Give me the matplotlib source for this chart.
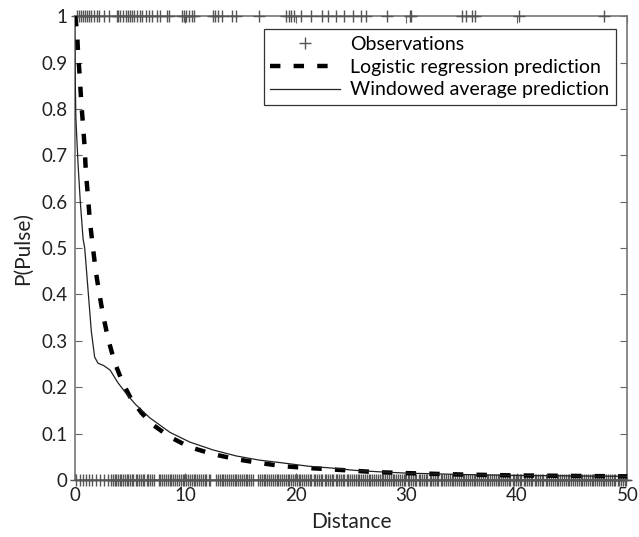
import matplotlib
matplotlib.use("Agg")
import matplotlib.pyplot as plt
from matplotlib.ticker import FuncFormatter

plt.rcParams['font.family'] = ['Lato', 'DejaVu Sans']
plt.rcParams['lines.scale_dashes'] = False

# Observations (distance of each event), pulse = 1 and pulse = 0
obs_pulse_x = [0.21, 0.39, 0.57, 0.75, 0.93, 1.1, 1.3, 1.5, 1.7, 2.0, 2.2, 2.6, 3.1,
               3.8, 3.95, 4.1, 4.4, 4.6, 4.8, 5.0, 5.2, 5.4, 5.6, 5.9, 6.1, 6.4, 6.7,
               7.0, 7.4, 7.7, 8.3, 8.5, 9.7, 9.9, 10.1, 10.3, 10.6, 10.8, 12.5, 12.7,
               13.0, 13.3, 14.2, 14.6, 16.7, 19.1, 19.4, 19.6, 19.8, 20.5, 21.4, 22.4,
               22.9, 23.6, 24.4, 25.2, 25.9, 26.3, 28.2, 30.3, 30.4, 35.0, 35.4, 35.9,
               36.2, 40.2, 47.9]
obs_nopulse_x = [0.15, 0.45, 0.7, 1.0, 1.3, 1.6, 1.96, 2.26, 2.6, 3.0, 3.3,
                 3.45, 3.6, 3.75, 3.9, 4.05, 4.2, 4.35, 4.5, 4.7, 4.85, 5.0, 5.15, 5.3,
                 5.5, 5.65, 5.8, 6.0, 6.15, 6.3, 6.5, 6.65, 6.8, 7.0, 7.15, 7.6, 7.75,
                 7.9, 8.1, 8.25, 8.4, 8.6, 8.75, 8.9, 9.1, 9.25, 9.4, 9.6, 9.75, 9.9,
                 10.1, 10.25, 10.4, 10.6, 10.75, 10.9, 11.1, 11.25, 11.4, 11.6, 11.75,
                 11.9, 12.1, 12.25, 12.8, 12.95, 13.1, 13.3, 13.45, 13.6, 13.8, 13.95,
                 14.1, 14.3, 14.45, 14.6, 14.8, 14.95, 15.1, 15.3, 15.45, 15.6, 15.8,
                 15.95, 16.1, 16.6, 16.75, 16.9, 17.1, 17.25, 17.4, 17.6, 17.75, 17.9,
                 18.1, 18.25, 18.4, 18.6, 18.75, 18.9, 19.1, 19.25, 19.4, 19.6, 19.75,
                 19.9, 20.1, 20.25, 20.4, 20.6, 20.75, 20.9, 21.1, 21.25, 21.4, 21.6,
                 21.75, 21.9, 22.1, 22.25, 22.4, 22.6, 22.75, 22.9, 23.1, 23.25, 23.4,
                 23.6, 23.75, 23.9, 24.1, 24.25, 24.4, 24.6, 24.75, 24.9, 25.1, 25.25,
                 25.4, 25.6, 25.75, 25.9, 26.1, 26.25, 26.4, 26.6, 26.75, 26.9, 27.1,
                 27.25, 27.4, 27.6, 27.75, 27.9, 28.1, 28.25, 28.4, 28.6, 28.75, 28.9,
                 29.1, 29.25, 29.4, 29.6, 29.75, 29.9, 30.1, 30.25, 30.4, 30.6, 30.75,
                 30.9, 31.1, 31.25, 31.4, 31.6, 31.75, 31.9, 32.1, 32.25, 32.4, 32.6,
                 32.75, 32.9, 33.1, 33.25, 33.4, 33.6, 33.75, 33.9, 34.1, 34.25, 34.4,
                 34.6, 34.75, 34.9, 35.1, 35.25, 35.4, 35.6, 35.75, 35.9, 36.1, 36.25,
                 36.4, 36.6, 36.75, 36.9, 37.1, 37.25, 37.4, 37.6, 37.75, 37.9, 38.1,
                 38.25, 38.4, 38.6, 38.75, 38.9, 39.1, 39.25, 39.4, 39.6, 39.75, 39.9,
                 40.1, 40.25, 40.4, 40.6, 40.75, 40.9, 41.1, 41.25, 41.4, 41.6, 41.75,
                 41.9, 42.1, 42.25, 42.4, 42.6, 42.75, 42.9, 43.1, 43.25, 43.4, 43.6,
                 43.75, 43.9, 44.1, 44.25, 44.4, 44.6, 44.75, 44.9, 45.1, 45.25, 45.4,
                 45.6, 45.75, 45.9, 46.1, 46.25, 46.4, 46.6, 46.75, 46.9, 47.1, 47.25,
                 47.4, 47.6, 47.75, 47.9, 48.1, 48.25, 48.4, 48.6, 48.75, 48.9, 49.1,
                 49.25, 49.4, 49.6, 49.75, 49.9]

# Logistic regression prediction
logit_x = [0.02, 0.2, 0.3, 0.45, 0.6, 0.75, 0.9, 1.0, 1.2, 1.36, 1.6, 1.9, 2.2, 2.56,
           3.0, 3.6, 4.35, 5.1, 6.0, 6.9, 8.6, 10.4, 12.5, 14.6, 16.7, 18.8, 21.1,
           23.2, 25.3, 27.4, 30.0, 35.0, 40.0, 45.0, 50.0]
logit_y = [1.0, 0.97, 0.92, 0.87, 0.81, 0.765, 0.715, 0.665, 0.61, 0.56, 0.51, 0.45,
           0.405, 0.356, 0.306, 0.254, 0.209, 0.175, 0.146, 0.122, 0.093, 0.071, 0.056,
           0.045, 0.037, 0.030, 0.026, 0.023, 0.020, 0.017, 0.015, 0.012, 0.010, 0.009,
           0.008]

# Windowed average prediction
window_x = [0.0, 0.05, 0.1, 0.3, 0.5, 0.75, 0.9, 1.2, 1.5, 1.8, 2.1, 2.6, 3.2, 3.9,
            4.7, 5.5, 6.8, 8.6, 10.4, 12.5, 14.6, 16.7, 18.8, 21.1, 23.2, 25.3, 27.4,
            30.0, 35.0, 40.0, 45.0, 50.0]
window_y = [0.98, 0.85, 0.78, 0.68, 0.60, 0.52, 0.50, 0.41, 0.32, 0.265, 0.252, 0.247,
            0.237, 0.21, 0.185, 0.163, 0.134, 0.103, 0.082, 0.065, 0.052, 0.043, 0.037,
            0.030, 0.026, 0.021, 0.018, 0.015, 0.012, 0.010, 0.009, 0.008]

x_ticks = [0, 10, 20, 30, 40, 50]
y_ticks = [0, 0.1, 0.2, 0.3, 0.4, 0.5, 0.6, 0.7, 0.8, 0.9, 1.0]

fig = plt.figure(figsize=(6.39, 5.37), dpi=100)
ax = fig.add_axes([0.117, 0.106, 0.865, 0.864])

obs_color = '#555555'
ax.plot(obs_pulse_x, [1] * len(obs_pulse_x), linestyle='none', marker='+',
        markersize=8.5, markeredgewidth=1.0, color=obs_color, clip_on=False,
        label='Observations', zorder=3)
ax.plot(obs_nopulse_x, [0] * len(obs_nopulse_x), linestyle='none', marker='+',
        markersize=8.5, markeredgewidth=1.0, color=obs_color, clip_on=False, zorder=3)
ax.plot(logit_x, logit_y, color='black', linewidth=3.2, dashes=(7.5, 9.5),
        label='Logistic regression prediction', zorder=4)
ax.plot(window_x, window_y, color='#222222', linewidth=0.9,
        label='Windowed average prediction', zorder=4)

ax.set_xlim(0, 50)
ax.set_ylim(0, 1)
ax.set_xticks(x_ticks)
ax.set_yticks(y_ticks)
ax.yaxis.set_major_formatter(FuncFormatter(lambda v, p: ('%g' % v)))
ax.tick_params(direction='in', top=True, right=True, length=5, width=0.8,
               color='#666666', labelsize=13.5, labelcolor='#222222', pad=5)
for s in ax.spines.values():
    s.set_color('#777777')
    s.set_linewidth(1.2)

ax.set_xlabel('Distance', fontsize=15, color='#222222', labelpad=6)
ax.set_ylabel('P(Pulse)', fontsize=15, color='#222222', labelpad=6)

leg = ax.legend(loc='upper right', bbox_to_anchor=(0.99, 0.985), fontsize=14,
                frameon=True, fancybox=False, framealpha=1, edgecolor='#333333',
                handlelength=3.6, borderpad=0.35, labelspacing=0.3, handletextpad=0.5,
                borderaxespad=0.3)
leg.get_frame().set_linewidth(0.9)

fig.savefig('out.png', dpi=100)
